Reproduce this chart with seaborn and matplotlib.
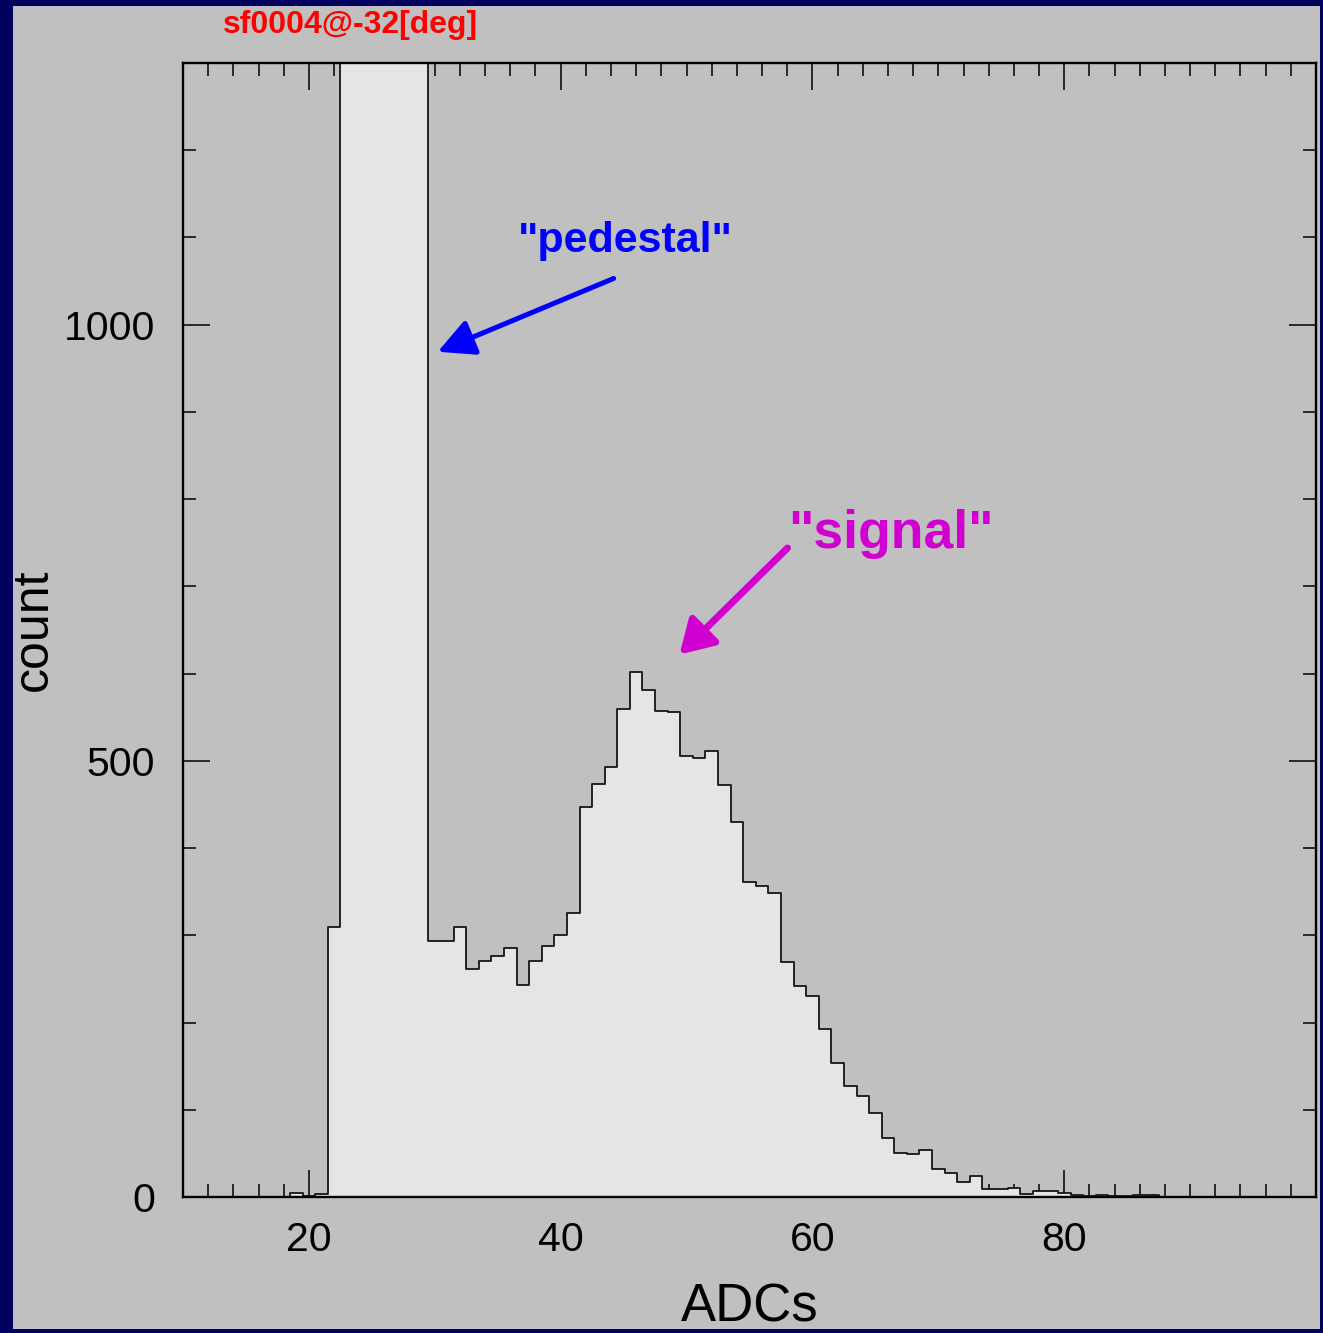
import matplotlib
matplotlib.use("Agg")
import matplotlib.pyplot as plt
from matplotlib.patches import Rectangle
from matplotlib.ticker import MultipleLocator
import numpy as np
import pandas as pd
import seaborn as sns

# ---- data ----
adc_bins = list(range(10, 101))
counts_low = [0] * 9                      # ADC 10..18
counts_rise = [5, 1, 3, 309]              # ADC 19..22
counts_pedestal = [1900, 3600, 4700, 4300, 3100, 2200, 1500]  # ADC 23..29 (off scale)
counts_valley = [293, 293, 309, 261, 270, 276, 286, 243, 270, 288, 300, 326]  # ADC 30..41
counts_signal = [447, 474, 493, 560, 602, 581, 557, 556, 506, 503, 511, 472,
                 430, 361, 357, 349, 269, 242, 230]                            # ADC 42..60
counts_tail = [193, 154, 127, 116, 96, 68, 51, 49, 54, 32, 28, 17, 24, 9, 9, 10,
               4, 7, 7, 5, 2, 1, 2, 1, 1, 2, 2]                                 # ADC 61..87
counts_zero = [0] * 13                                                          # ADC 88..100
counts = counts_low + counts_rise + counts_pedestal + counts_valley + counts_signal + counts_tail + counts_zero

title_text = "sf0004@-32[deg]"
x_label = "ADCs"
y_label = "count"
x_ticks = [20, 40, 60, 80]
y_ticks = [0, 500, 1000]

df = pd.DataFrame({"adc": adc_bins, "count": counts})

# ---- style ----
sns.set_theme(style="ticks")
plt.rcParams["font.family"] = ["Liberation Sans", "DejaVu Sans"]

NAVY = "#00005e"
PANEL = "#c0c0c0"

fig = plt.figure(figsize=(13.23, 13.33), dpi=100, facecolor=NAVY)
W, H = 1323.0, 1333.0
fig.patches.append(Rectangle((13 / W, 4 / H), (1320 - 13) / W, (1329 - 6) / H,
                             transform=fig.transFigure, facecolor=PANEL,
                             edgecolor="none", zorder=-5))

ax = fig.add_axes([183 / W, (H - 1197) / H, (1316 - 183) / W, (1197 - 63) / H])
ax.set_facecolor(PANEL)

sns.histplot(data=df, x="adc", weights="count", discrete=True, element="step",
             fill=True, facecolor="#e5e5e5", edgecolor="#151515",
             linewidth=1.3, alpha=1, ax=ax)

ax.set_xlim(10, 100)
ax.set_ylim(0, 1300)
ax.set_xticks(x_ticks)
ax.set_yticks(y_ticks)
ax.xaxis.set_minor_locator(MultipleLocator(2))
ax.yaxis.set_minor_locator(MultipleLocator(100))

for s in ax.spines.values():
    s.set_linewidth(1.7)
    s.set_color("black")
    s.set_visible(True)

ax.tick_params(which="both", direction="in", top=True, right=True, color="black")
ax.tick_params(which="major", length=19.4, width=1.1)
ax.tick_params(which="minor", length=9.4, width=1.1)
ax.tick_params(axis="x", which="major", labelsize=29.5, pad=17, labelcolor="black")
ax.tick_params(axis="y", which="major", labelsize=29.5, pad=20, labelcolor="black")

ax.set_xlabel(x_label, fontsize=38, color="black", va="baseline")
ax.xaxis.set_label_coords(0.5, -(1321 - 1197) / 1134)
ax.set_ylabel(y_label, fontsize=36, color="black", va="center", ha="center")
ax.yaxis.set_label_coords((34 - 183) / 1133, 0.5)

ax.text((350 - 183) / 1133, (1197 - 33) / 1134, title_text, transform=ax.transAxes,
        ha="center", va="baseline", fontsize=23, fontweight="bold", color="#ff0000")

# annotations
ax.text(45.16, 1083.5, '"pedestal"', ha="center", va="baseline", fontsize=31,
        fontweight="bold", color="#0000ff")
ax.annotate("", xy=(30.24, 969), xytext=(44.21, 1053),
            arrowprops=dict(arrowstyle="-|>,head_length=0.55,head_width=0.28",
                            mutation_scale=40, lw=3.6, color="#0000ff",
                            shrinkA=0, shrinkB=0, capstyle="round"))

ax.text(66.23, 744, '"signal"', ha="center", va="baseline", fontsize=38.5,
        fontweight="bold", color="#d000d0")
ax.annotate("", xy=(49.44, 622), xytext=(58.02, 744),
            arrowprops=dict(arrowstyle="-|>,head_length=0.5,head_width=0.3",
                            mutation_scale=40, lw=5.0, color="#d000d0",
                            shrinkA=0, shrinkB=0, capstyle="round"))

fig.savefig("out.png", dpi=100, facecolor=NAVY)
